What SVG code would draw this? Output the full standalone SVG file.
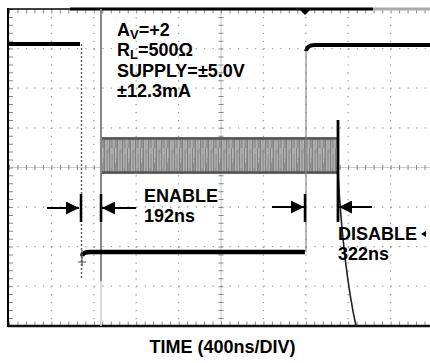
<svg xmlns="http://www.w3.org/2000/svg" width="430" height="363" viewBox="0 0 430 363">
<defs>
<style>
.t{font-family:"Liberation Sans",Arial,sans-serif;font-weight:bold;font-size:18px;fill:#000}
.sub{font-size:13px}
.gv{stroke:#a0a0a0;stroke-width:1.3;stroke-dasharray:1.3 6.62;fill:none}
.gh{stroke:#a0a0a0;stroke-width:1.3;stroke-dasharray:1.3 7.18;fill:none}
.ar{stroke:#000;stroke-width:2;fill:none}
.bar{stroke:#000;stroke-width:2.5}
</style>
<marker id="ah" viewBox="0 0 10 10" refX="10" refY="5" markerWidth="13" markerHeight="13" markerUnits="userSpaceOnUse" orient="auto">
<path d="M0,0 L10,5 L0,10 Z" fill="#000"/>
</marker>
<pattern id="noise" width="13" height="37" patternUnits="userSpaceOnUse">
<rect width="13" height="37" fill="#a2a2a2"/>
<path d="M0.5,0V37M3,2V30M5.5,0V37M8,6V37M10.5,0V25M12,10V37" stroke="#777" stroke-width="0.8"/>
<path d="M1.8,0V37M4.3,5V37M7,0V20M9.3,0V37M11.5,0V15" stroke="#c2c2c2" stroke-width="0.6"/>
</pattern>
</defs>
<rect width="430" height="363" fill="#fff"/>
<g id="grid">
<path class="gv" d="M51.4,9V326M93.8,9V326M136.2,9V326M178.6,9V326M263.4,9V326M305.8,9V326M348.2,9V326M390.6,9V326"/>
<path class="gh" d="M9,48.6H430M9,88.2H430M9,127.8H430M9,207H430M9,246.6H430M9,286.2H430"/>
<path d="M9,167.4H430" stroke="#bbb" stroke-width="0.8"/>
<path d="M221,9V326" stroke="#bbb" stroke-width="0.8"/>
<path d="M9,167.4H430" stroke="#888" stroke-width="5" stroke-dasharray="1 7.48"/>
<path d="M221,9V326" stroke="#888" stroke-width="5" stroke-dasharray="1 6.92"/>
<path d="M9,11.5H430" stroke="#888" stroke-width="4" stroke-dasharray="1 7.48"/>
<path d="M9,323.5H430" stroke="#888" stroke-width="4" stroke-dasharray="1 7.48"/>
<path d="M11,9V326" stroke="#888" stroke-width="4" stroke-dasharray="1 6.92"/>
</g>
<g id="frame">
<path d="M8,9H70" stroke="#000" stroke-width="1.5"/>
<path d="M70,9H373" stroke="#000" stroke-width="3"/>
<path d="M373,9H430" stroke="#aaa" stroke-width="3"/>
<path d="M8,8V327" stroke="#000" stroke-width="2"/>
<path d="M8,326H430" stroke="#111" stroke-width="2.5"/>
<path d="M300,10L310,10L305,15Z" fill="#000"/>
<path d="M421,234L426,231L426,237Z" fill="#000"/>
</g>
<g id="traces">
<rect x="102" y="137" width="235" height="37" fill="url(#noise)"/>
<path d="M102,138.5H337M102,172.5H337" stroke="#555" stroke-width="2.5"/>
<path d="M101,9V281" stroke="#888" stroke-width="2"/>
<path d="M101,281V326" stroke="#ccc" stroke-width="1.5"/>
<path d="M81.5,44V280" stroke="#666" stroke-width="1.5" stroke-dasharray="2 2"/>
<path d="M9,44H80" stroke="#000" stroke-width="4"/>
<path d="M306,252V46" stroke="#888" stroke-width="1.2"/>
<path d="M306,51Q307,45 315,45H430" stroke="#000" stroke-width="4" fill="none"/>
<path d="M82,256Q83,252 90,252H305" stroke="#000" stroke-width="4.5" fill="none"/>
<path d="M82,250V266M78,262H86" stroke="#555" stroke-width="1.2"/>
<path d="M338,174C341,225 347,285 356,326" stroke="#222" stroke-width="1.6" fill="none"/>
</g>
<g id="connectors">
<path class="ar" d="M47,208H79" marker-end="url(#ah)"/>
<path class="ar" d="M136,208H102" marker-end="url(#ah)"/>
<path class="ar" d="M272,207H304" marker-end="url(#ah)"/>
<path class="ar" d="M372,207H339" marker-end="url(#ah)"/>
<path class="bar" d="M81,194V222M101,194V222M305,194V222"/>
<path d="M338,120V222" stroke="#000" stroke-width="2.8"/>
</g>
<g id="labels">
<text class="t" x="117" y="36">A<tspan class="sub" dy="3">V</tspan><tspan dy="-3">=+2</tspan></text>
<text class="t" x="117" y="56">R<tspan class="sub" dy="3">L</tspan><tspan dy="-3">=500Ω</tspan></text>
<text class="t" x="117" y="77">SUPPLY=±5.0V</text>
<text class="t" x="117" y="97">±12.3mA</text>
<text class="t" x="144" y="202">ENABLE</text>
<text class="t" x="144" y="222">192ns</text>
<text class="t" x="338" y="240">DISABLE</text>
<text class="t" x="338" y="260">322ns</text>
<text class="t" x="222.5" y="353" text-anchor="middle">TIME (400ns/DIV)</text>
</g>
</svg>
